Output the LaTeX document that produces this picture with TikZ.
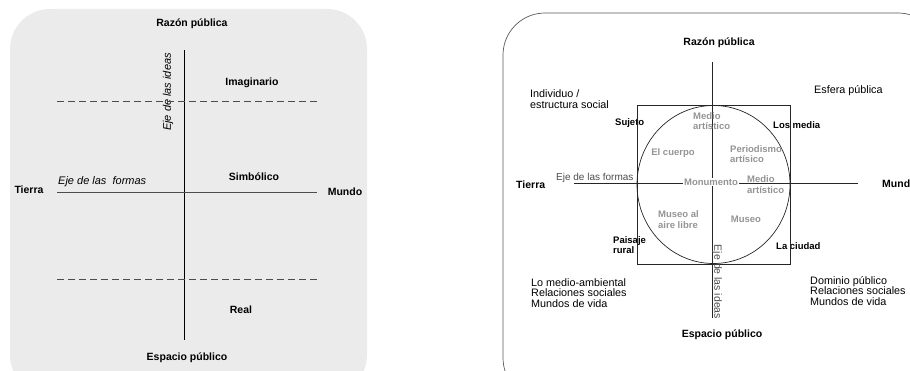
\documentclass[tikz,border=0pt]{standalone}
\usepackage{fontspec}
\setmainfont{Liberation Sans}
\tikzset{
	txt/.style={inner sep=0pt, font=\fontsize{10.8}{10.8}\selectfont, align=left},
	tit/.style={inner sep=0pt, font=\bfseries\fontsize{10.5}{11}\selectfont},
	sml/.style={inner sep=0pt, font=\bfseries\fontsize{9.5}{10}\selectfont, align=left},
	gris/.style={inner sep=0pt, text=black!42, font=\bfseries\fontsize{9.5}{10.5}\selectfont, align=left},
	eje/.style={line width=0.8pt, draw=black!85},
	corte/.style={line width=0.8pt, draw=black!70, dash pattern=on 7pt off 4pt}
}
\begin{document}
\begin{tikzpicture}[x=1pt,y=-1pt]
			\useasboundingbox (0,0) rectangle (910,371);
			% panel izquierdo
			\fill[black!8, rounded corners=40pt] (10,9) rectangle (367,395);
			\coordinate (l0) at (184, 50);
			\coordinate (l1) at (184,340);
			\coordinate (l2) at ( 57,192);
			\coordinate (l3) at (317,192);
			\coordinate (l4) at ( 57,101);
			\coordinate (l5) at (317,101);
			\coordinate (l6) at ( 57,279);
			\coordinate (l7) at (317,279);
			\node[tit] (razonA)   at (192, 24)  {Razón pública};
			\node[tit] (espacioA) at (187,358)  {Espacio público};
			\node[tit] (tierraA)  at ( 29,190)  {Tierra};
			\node[tit] (mundoA)   at (345,192)  {Mundo};
			\node[tit] (imag)     at (252, 83)  {Imaginario};
			\node[tit] (simb)     at (254,177)  {Simbólico};
			\node[tit] (real)     at (241,310)  {Real};
			\node[inner sep=0pt, anchor=west, font=\itshape\fontsize{11}{11}\selectfont] (formasA) at (58,182) {Eje de las\ \ formas};
			\node[inner sep=0pt, rotate=90, font=\itshape\fontsize{11}{11}\selectfont] (ideasA) at (168,92) {Eje de las ideas};
			
			\def\solid {l0/l1/black, l2/l3/black!70}  % ejes
			\foreach \u\v\c in \solid
			{	\draw[eje, draw=\c] (\u) -- (\v);
			}
			\def\dashes {l4/l5, l6/l7}  % limites
			\foreach \u\v in \dashes
			{	\draw[corte] (\u) -- (\v);
			}
			
			% panel derecho
			\draw[line width=0.7pt, draw=black!65, rounded corners=42pt] (503,13) rectangle (940,400);
			\coordinate (r0) at (712, 62);
			\coordinate (r1) at (712,318);
			\coordinate (r2) at (574,183);
			\coordinate (r3) at (858,183);
			\coordinate (sq0) at (637,105);
			\coordinate (sq1) at (790,264);
			\coordinate (mid) at (713.5,184.5);
			\node[tit] (razonB)   at (719, 43)  {Razón pública};
			\node[tit] (espacioB) at (722,335)  {Espacio público};
			\node[tit, anchor=west] (tierraB) at (516,185) {Tierra};
			\node[tit, anchor=west] (mundoB)  at (882,184) {Mundo};
			\node[txt, anchor=west] (indiv)   at (530, 99) {Individuo /\\estructura social};
			\node[txt, anchor=west] (esfera)  at (814, 91) {Esfera pública};
			\node[txt, anchor=west] (medioamb) at (531,293) {Lo medio-ambiental\\Relaciones sociales\\Mundos de vida};
			\node[txt, anchor=west] (dominio) at (810,291) {Dominio público\\Relaciones sociales\\Mundos de vida};
			\node[sml, anchor=west] (sujeto)  at (615,123) {Sujeto};
			\node[sml, anchor=west] (media)   at (773,125) {Los media};
			\node[sml, anchor=west] (paisaje) at (613,245) {Paisaje\\rural};
			\node[sml, anchor=west] (ciudad)  at (776,246) {La ciudad};
			
			\draw[eje, line width=0.7pt] (sq0) rectangle (sq1);
			\draw[eje, line width=0.7pt] (mid) ellipse [x radius=76.5, y radius=79];
			\def\axes {r0/r1, r2/r3}
			\foreach \u\v in \axes
			{	\draw[eje, line width=0.7pt] (\u) -- (\v);
			}
			
			\node[gris, anchor=west] (medioA) at (693,121) {Medio\\artístico};
			\node[gris] (cuerpo) at (673,153) {El cuerpo};
			\node[gris, anchor=west] (period) at (730,154) {Periodismo\\artísico};
			\node[gris, fill=white, inner sep=1pt] (monum) at (711,182) {Monumento};
			\node[gris, anchor=west] (medioB) at (747,184.5) {Medio\\artístico};
			\node[gris, anchor=west] (aire) at (658,219.5) {Museo al\\aire libre};
			\node[gris] (museo) at (746,219) {Museo};
			\node[inner sep=0pt, anchor=west, text=black!70, font=\fontsize{10}{11}\selectfont] (formasB) at (556,178) {Eje de las formas};
			\node[inner sep=0pt, rotate=-90, text=black!70, font=\fontsize{10.5}{11}\selectfont] (ideasB) at (717,282) {Eje de las ideas};
		\end{tikzpicture}
\end{document}
